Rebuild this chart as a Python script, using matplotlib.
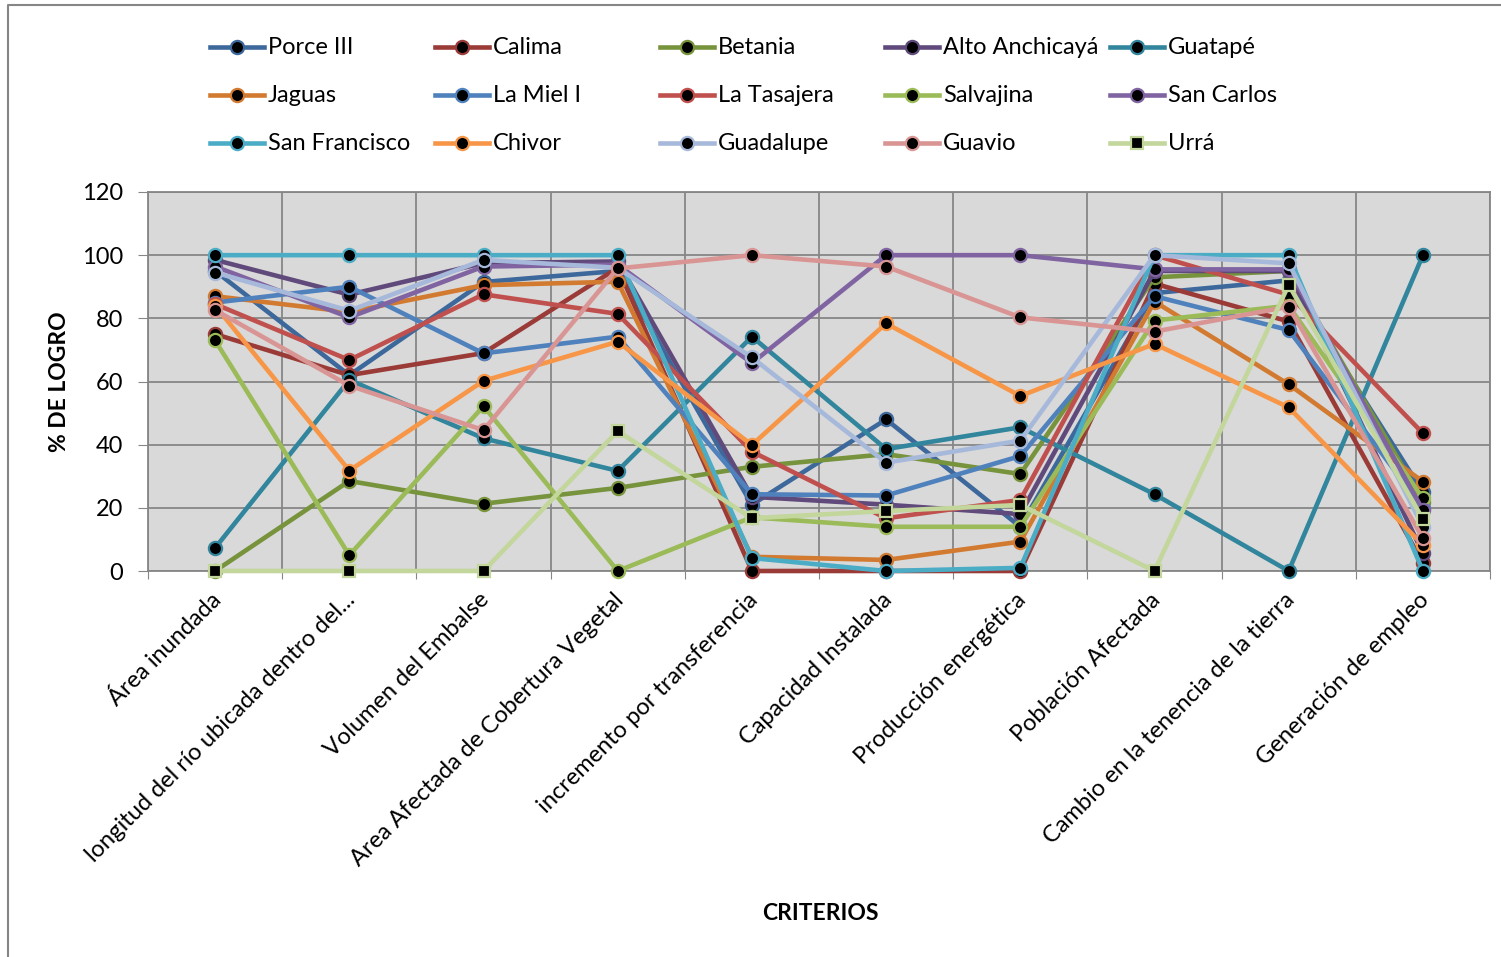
import numpy as np
import matplotlib.pyplot as plt
from matplotlib.lines import Line2D
from matplotlib.transforms import ScaledTranslation

plt.rcParams['font.family'] = ['Lato', 'DejaVu Sans']

criterios = ["Área inundada",
             "longitud del río ubicada dentro del...",
             "Volumen del Embalse",
             "Area Afectada de Cobertura Vegetal",
             "incremento por transferencia",
             "Capacidad Instalada",
             "Producción energética",
             "Población Afectada",
             "Cambio en la tenencia de la tierra",
             "Generación de empleo"]

porce_iii     = [95, 62, 91.5, 95, 21, 48, 14, 88, 92, 25]
calima        = [75, 62, 69, 96, 0, 0, 0, 91, 79, 2.5]
betania       = [0, 28.5, 21.3, 26.3, 33, 37, 30.7, 93, 95, 22]
alto_anchic   = [98.5, 87.5, 97.5, 98, 23.5, 21, 18, 95, 95, 5.6]
guatape       = [7.3, 60.5, 42, 31.7, 74.2, 38.6, 45.5, 24.3, 0, 100]
jaguas        = [87, 82, 90.5, 91.6, 4.5, 3.5, 9.3, 85.3, 59.1, 28.3]
la_miel       = [85, 90, 68.9, 74.2, 24.3, 23.9, 36.4, 87, 76.3, 20]
la_tasajera   = [84.5, 66.8, 87.6, 81.4, 37.8, 16.7, 22.5, 100, 87.5, 43.6]
salvajina     = [73, 5, 52.2, 0, 17, 14, 14, 79.3, 84, 23]
san_carlos    = [96.4, 80.3, 96.4, 97, 65.8, 100, 100, 95.5, 95.5, 19.3]
san_francisco = [100, 100, 100, 100, 4.1, 0, 1, 100, 100, 0]
chivor        = [84, 31.8, 60.2, 72.6, 39.9, 78.4, 55.4, 71.9, 51.8, 8.2]
guadalupe     = [94.5, 82.4, 98.5, 96, 67.6, 34.3, 41.3, 100, 97.4, 14]
guavio        = [82.6, 58.7, 44.6, 95.8, 100, 96.4, 80.3, 75.8, 83.7, 10.4]
urra          = [0, 0, 0, 44.3, 16.7, 19, 20.9, 0, 90.6, 16.4]

nombres = ["Porce III", "Calima", "Betania", "Alto Anchicayá", "Guatapé",
           "Jaguas", "La Miel I", "La Tasajera", "Salvajina", "San Carlos",
           "San Francisco", "Chivor", "Guadalupe", "Guavio", "Urrá"]
series = [porce_iii, calima, betania, alto_anchic, guatape,
          jaguas, la_miel, la_tasajera, salvajina, san_carlos,
          san_francisco, chivor, guadalupe, guavio, urra]
colores = ["#3D689C", "#9A3B38", "#77933C", "#604A7B", "#31859C",
           "#D27A30", "#4F81BD", "#C0504D", "#9BBB59", "#8064A2",
           "#4BACC6", "#F79646", "#A7B9DA", "#D99594", "#C3D69B"]
marcadores = ["o"] * 14 + ["s"]

W, H = 1501, 957
fig = plt.figure(figsize=(W / 100, H / 100), dpi=100)
ax = fig.add_axes([148 / W, 1 - 571 / H, (1490 - 148) / W, (571 - 192) / H])
ax.set_facecolor("#D9D9D9")

x = np.arange(len(criterios))
for vals, nom, col, mk in zip(series, nombres, colores, marcadores):
    ax.plot(x, vals, color=col, lw=3.3, marker=mk, ms=9.5 if mk == "o" else 9,
            mfc="black", mec=col, mew=1.6, label=nom, clip_on=False, zorder=3)

ax.set_xlim(-0.5, len(criterios) - 0.5)
ax.set_ylim(0, 120)
ax.set_yticks(np.arange(0, 121, 20))
ax.set_xticks(np.arange(-0.5, len(criterios)), minor=False)
ax.set_xticklabels([])
ax.set_xticks(x, minor=True)
ax.set_xticklabels(criterios, minor=True, rotation=45, ha="right", va="top",
                   rotation_mode="anchor", fontsize=17)
ax.tick_params(axis="x", which="minor", length=0, pad=13)
ax.tick_params(axis="x", which="major", length=6, color="#868686")
ax.tick_params(axis="y", length=7, color="#868686", labelsize=17, pad=11)
desplaza = ScaledTranslation(-5 / 100, 0, fig.dpi_scale_trans)
for lab in ax.get_xticklabels(minor=True):
    lab.set_transform(lab.get_transform() + desplaza)
ax.grid(True, which="major", color="#868686", lw=1.3)
ax.set_axisbelow(True)
for s in ax.spines.values():
    s.set_color("#868686")
    s.set_linewidth(1.3)

fig.text(60 / W, 1 - 382 / H, "% DE LOGRO", rotation=90, ha="center",
         va="center", fontsize=16.5, fontweight="bold")
fig.text(820 / W, 1 - 913 / H, "CRITERIOS", ha="center", va="center",
         fontsize=16.5, fontweight="bold")

# leyenda en 3 filas x 5 columnas, columnas de ancho fijo
for i, (nom, col, mk) in enumerate(zip(nombres, colores, marcadores)):
    fila, colum = divmod(i, 5)
    x0 = 210 + 225 * colum
    yy = 1 - (47 + 48 * fila) / H
    fig.add_artist(Line2D([x0 / W, (x0 + 27) / W, (x0 + 54) / W], [yy, yy, yy],
                          transform=fig.transFigure, color=col, lw=3.3,
                          marker=mk, markevery=[1], ms=9.5 if mk == "o" else 9,
                          mfc="black", mec=col, mew=1.6))
    fig.text((x0 + 58) / W, yy, nom, ha="left", va="center", fontsize=17)

# marco del área del gráfico
fig.add_artist(Line2D([8 / W, 8 / W, 1], [0, 1 - 5 / H, 1 - 5 / H],
                      transform=fig.transFigure, color="#868686", lw=1.5))

fig.savefig("out.png", dpi=100)
